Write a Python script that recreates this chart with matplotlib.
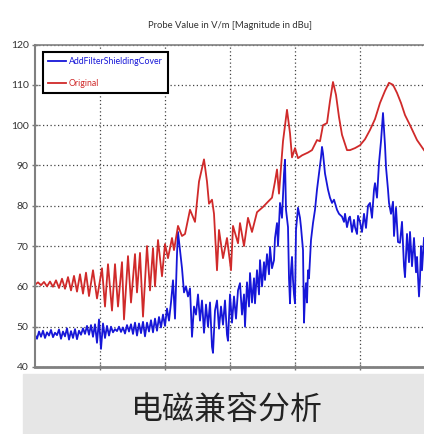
import matplotlib.pyplot as plt
from matplotlib.patches import Rectangle

# sample positions across the sweep (same scale for both traces), values in dBu
red_pos = [35, 38, 41, 44, 47, 50, 53, 56, 59, 62, 65, 68, 71, 74, 77, 80, 83, 86, 89,
           93, 97, 102, 105, 108, 112, 115, 118, 122, 124, 128, 131, 135, 137, 140, 143,
           147, 150, 153, 155, 158, 162, 165, 168, 172, 174, 178, 182, 185, 190, 195, 199,
           204, 207, 209, 212, 214, 217, 219, 223, 227, 231, 233, 238, 240, 244, 248, 252,
           257, 263, 268, 272, 275, 277, 279, 283, 287, 290, 292, 295, 298, 302, 308, 312,
           317, 320, 323, 327, 330, 333, 336, 339, 342, 347, 350, 355, 360, 365, 370, 375,
           380, 385, 389, 393, 397, 401, 405, 410, 417, 424]
red_val = [60.4, 61.0, 60.3, 61.1, 60.0, 61.2, 59.9, 61.5, 59.6, 61.9, 59.4, 62.3, 59.0, 62.6,
           58.7, 63.0, 58.2, 63.4, 57.6, 64.0, 57.0, 64.5, 55.0, 65.5, 54.0, 65.5, 55.0, 66.0,
           51.8, 67.5, 56.0, 68.0, 58.5, 68.3, 52.5, 70.0, 59.0, 69.5, 60.0, 71.5, 62.5, 70.5,
           67.0, 72.0, 69.0, 75.0, 72.5, 73.0, 79.0, 76.0, 86.0, 91.5, 86.0, 80.5, 81.5, 78.0,
           64.0, 74.0, 67.0, 72.0, 64.0, 75.0, 70.7, 75.7, 70.0, 77.0, 73.5, 78.4, 79.7, 81.0,
           82.0, 86.0, 89.0, 83.0, 96.0, 103.8, 98.0, 92.0, 94.3, 91.8, 92.5, 93.2, 93.8, 96.3,
           96.0, 100.0, 100.5, 106.0, 110.7, 107.5, 102.0, 97.6, 93.8, 93.8, 94.3, 95.0, 96.5,
           98.8, 101.5, 105.5, 108.5, 110.5, 110.0, 108.0, 105.5, 102.5, 100.0, 96.3, 93.8]

blue_pos = [35, 37, 39, 41, 43, 45, 47, 49, 51, 53, 55, 57, 59, 61, 63, 65, 67, 69, 71, 73,
            75, 77, 79, 81, 83, 85, 87, 89, 91, 93, 95, 97, 99, 101, 103, 105, 107, 109, 111,
            113, 115, 117, 119, 121, 123, 125, 127, 129, 131, 133, 135, 137, 139, 141, 143,
            145, 147, 149, 151, 153, 155, 157, 159, 161, 163, 165, 167, 169, 171, 173, 175,
            177, 178, 180, 182, 184, 186, 188, 190, 192, 194, 196, 198, 200, 202, 204, 206,
            208, 210, 212, 213, 215, 217, 219, 221, 223, 225, 227, 228, 230, 232, 234, 236,
            238, 240, 242, 244, 245, 247, 249, 250, 252, 254, 255, 257, 259, 260, 262, 264,
            265, 267, 269, 270, 272, 274, 275, 277, 278, 280, 282, 284, 285, 286, 288, 289,
            290, 291, 292, 293, 294, 295, 296, 298, 300, 301, 302, 303, 304, 305, 306, 307,
            308, 309, 311, 313, 315, 317, 319, 321, 322, 323, 325, 328, 330, 332, 334, 337,
            339, 342, 344, 345, 347, 349, 350, 352, 354, 355, 357, 358, 360, 362, 364, 366,
            368, 370, 372, 374, 375, 377, 379, 381, 383, 385, 386, 388, 389, 391, 393, 394,
            396, 398, 400, 402, 404, 405, 407, 409, 410, 412, 414, 416, 417, 419, 420, 421,
            422, 424]
blue_val = [48.0, 47.0, 48.8, 47.5, 49.0, 47.2, 48.6, 47.8, 49.2, 47.4, 48.5, 47.9, 49.3,
            47.0, 48.8, 47.6, 49.6, 46.8, 48.9, 47.2, 49.4, 46.9, 49.0, 48.0, 49.6, 48.2,
            50.2, 48.0, 50.4, 47.5, 50.6, 46.0, 51.8, 44.5, 50.8, 47.2, 50.2, 47.8, 50.0,
            48.6, 49.4, 48.9, 50.0, 48.7, 49.8, 48.3, 50.4, 48.8, 50.6, 48.2, 51.0, 47.8,
            50.8, 48.4, 51.2, 47.6, 51.0, 48.8, 51.6, 48.6, 52.0, 49.0, 52.4, 49.8, 53.0,
            50.2, 54.5, 51.5, 56.0, 61.5, 52.0, 68.0, 73.5, 69.0, 64.5, 58.5, 60.0, 57.5,
            59.5, 47.5, 55.0, 53.0, 58.0, 51.5, 56.5, 48.5, 55.5, 50.0, 56.0, 45.0, 43.5,
            54.0, 56.5, 49.5, 55.0, 50.5, 56.5, 48.0, 46.5, 58.0, 51.0, 57.5, 52.0, 59.0,
            60.8, 53.0, 58.0, 50.0, 61.0, 55.0, 63.3, 56.0, 62.0, 55.8, 64.0, 58.0, 66.5,
            60.0, 66.0, 61.6, 68.0, 63.0, 69.8, 64.5, 66.5, 72.0, 75.7, 70.0, 80.7, 77.0,
            88.0, 91.4, 79.0, 74.7, 62.0, 55.8, 64.0, 67.3, 61.6, 58.0, 55.8, 74.0, 79.5,
            77.0, 74.7, 72.0, 69.0, 51.0, 58.0, 60.8, 56.0, 64.0, 62.0, 71.5, 75.7, 79.0,
            84.0, 88.0, 92.0, 94.6, 93.0, 88.0, 84.0, 82.0, 80.7, 81.5, 79.0, 78.0, 77.3,
            76.0, 78.0, 74.7, 77.0, 77.3, 73.5, 76.5, 74.7, 73.0, 77.5, 76.0, 73.5, 78.0,
            74.5, 80.0, 80.7, 77.0, 84.0, 85.6, 82.0, 90.6, 96.0, 103.0, 95.0, 89.6, 84.0,
            80.7, 78.0, 81.0, 72.5, 79.5, 71.0, 70.8, 76.0, 65.0, 62.3, 73.0, 66.0, 73.5,
            65.0, 72.0, 63.5, 67.3, 57.5, 62.0, 70.0, 64.0, 72.0]

X_MIN, X_MAX = 35, 424
X_GRID = [100, 165, 230, 295, 360]
Y_TICKS = [40, 50, 60, 70, 80, 90, 100, 110, 120]

NARROW = ['Lato', 'DejaVu Sans']

fig = plt.figure(figsize=(4.24, 4.34), dpi=100)
ax = fig.add_axes([35 / 424, 67 / 434, 389 / 424, 322.5 / 434])

ax.plot(blue_pos, blue_val, color='#1616d8', lw=1.3, label='AddFilterShieldingCover')
ax.plot(red_pos, red_val, color='#d02a2a', lw=1.3, label='Original')

ax.set_xlim(X_MIN, X_MAX)
ax.set_ylim(40, 120)
ax.set_xticks(X_GRID)
ax.set_xticklabels([])
ax.set_yticks(Y_TICKS)
ax.set_yticklabels([str(v) for v in Y_TICKS], family=NARROW, fontsize=7.5, color='#333333')
ax.tick_params(direction='inout', length=5, width=1, color='#777777', pad=2)

ax.grid(True, color='#444444', lw=0.9, linestyle=(0, (1, 2)))
for s in ['left', 'bottom', 'top']:
    ax.spines[s].set_color('#808080')
ax.spines['left'].set_linewidth(1.5)
ax.spines['bottom'].set_linewidth(2)
ax.spines['top'].set_linewidth(1.2)
ax.spines['right'].set_visible(False)

leg = ax.legend(loc='upper left', bbox_to_anchor=(0.02, 0.978), fancybox=False,
                framealpha=1, edgecolor='black', labelcolor='linecolor',
                prop={'family': NARROW, 'size': 6.3}, handlelength=2.0,
                handletextpad=0.4, borderpad=0.6, labelspacing=1.5, borderaxespad=0)
leg.get_frame().set_linewidth(1.5)

fig.text(230 / 424, 1 - 25 / 434, 'Probe Value in V/m [Magnitude in dBu]',
         family=NARROW, fontsize=6.8, color='#333333', ha='center', va='center')

# grey caption band
fig.add_artist(Rectangle((23 / 424, 0), 1 - 23 / 424, 60 / 434,
                         transform=fig.transFigure, color='#e6e6e6', zorder=0))
fig.text(227 / 424, 1 - 410 / 434, '电磁兼容分析', family=['Noto Sans CJK SC', 'DejaVu Sans'],
         fontsize=23, fontweight='light', color='#222222', ha='center', va='center')

fig.savefig('out.png', dpi=100)
